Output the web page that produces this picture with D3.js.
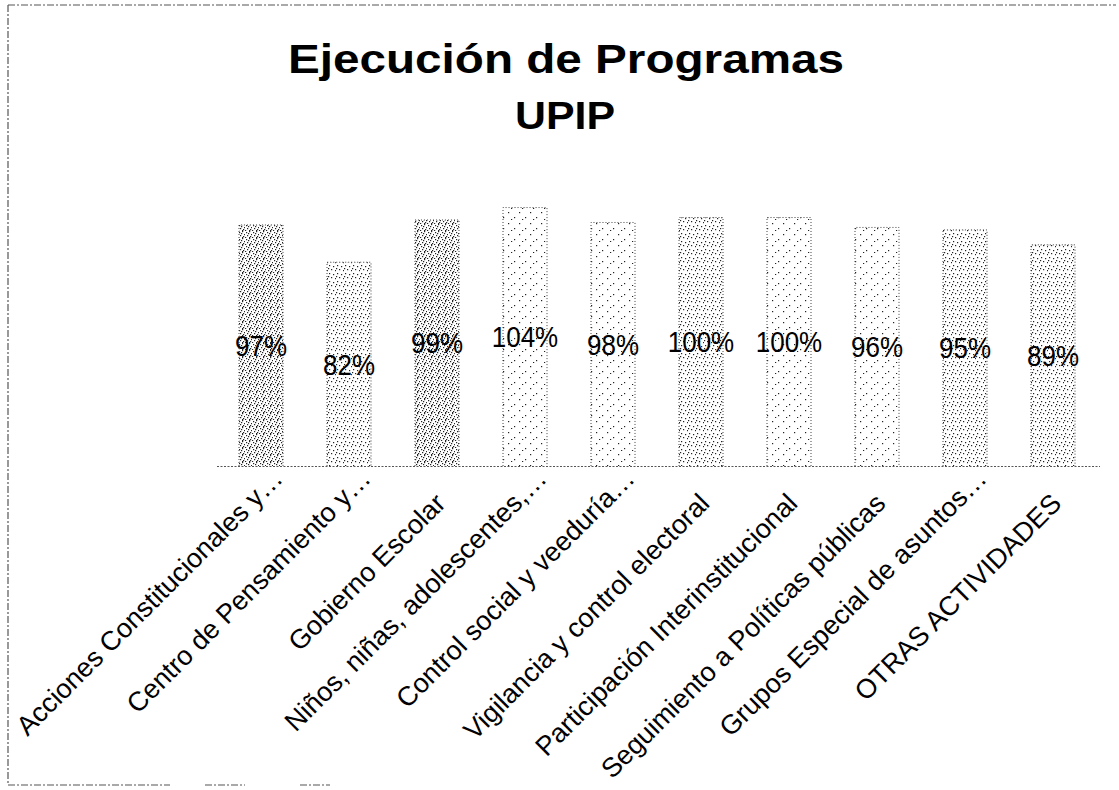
<!DOCTYPE html>
<html>
<head>
<meta charset="utf-8">
<script src="https://cdn.jsdelivr.net/npm/d3@7"></script>
<style>
  html, body { margin: 0; padding: 0; background: #fff; }
  svg { display: block; }
  text { font-family: "Liberation Sans", Arial, sans-serif; fill: #000; }
</style>
</head>
<body>
<svg id="chart" width="1119" height="790"></svg>
<script>
// Programas y porcentaje de ejecución
const categories = [
  "Acciones Constitucionales y…",
  "Centro de Pensamiento y…",
  "Gobierno Escolar",
  "Niños, niñas, adolescentes,…",
  "Control social y veeduría…",
  "Vigilancia y control electoral",
  "Participación Interinstitucional",
  "Seguimiento a Políticas públicas",
  "Grupos Especial de asuntos…",
  "OTRAS ACTIVIDADES"
];
const ejecucion = [97, 82, 99, 104, 98, 100, 100, 96, 95, 89];
const titleLines = ["Ejecución de Programas", "UPIP"];

// texture used by each bar (stippled print fills)
const barTexture = ["dense", "medium", "dense", "sparse", "sparse",
                    "medium", "sparse", "sparse", "medium", "medium"];

const svg = d3.select("#chart");

// stipple patterns
const defs = svg.append("defs");
const tiles = {
  dense:  { size: 7, dots: [[1,1],[4,0],[6,3],[2,4],[5,5],[0,6],[3,2],[4,6]] },
  medium: { size: 8, dots: [[1,1],[5,2],[3,5],[7,6],[0,4]] },
  sparse: { size: 11, dots: [[2,3],[8,8],[5,10]] }
};
Object.entries(tiles).forEach(([name, t]) => {
  const p = defs.append("pattern")
    .attr("id", "stipple-" + name)
    .attr("patternUnits", "userSpaceOnUse")
    .attr("width", t.size).attr("height", t.size);
  p.append("rect").attr("width", t.size).attr("height", t.size).attr("fill", "#fff");
  p.selectAll("rect.dot").data(t.dots).join("rect")
    .attr("class", "dot")
    .attr("x", d => d[0]).attr("y", d => d[1])
    .attr("width", 1.2).attr("height", 1.2)
    .attr("fill", "#222");
});

// outer frame (dashed, as printed)
const frame = svg.append("g").attr("fill", "none").attr("stroke", "#555")
  .attr("stroke-width", 1.2).attr("stroke-dasharray", "7,2,2,2");
frame.append("line").attr("x1", 8).attr("y1", 5).attr("x2", 1116).attr("y2", 5);
frame.append("line").attr("x1", 8).attr("y1", 5).attr("x2", 8).attr("y2", 785);
frame.append("line").attr("x1", 8).attr("y1", 785).attr("x2", 170).attr("y2", 785);
frame.append("line").attr("x1", 205).attr("y1", 785).attr("x2", 245).attr("y2", 785);
frame.append("line").attr("x1", 300).attr("y1", 785).attr("x2", 330).attr("y2", 785);

// title
const title = svg.append("g").attr("font-weight", "bold").attr("text-anchor", "middle");
title.append("text").attr("x", 566).attr("y", 73)
  .attr("font-size", 41).attr("textLength", 556).attr("lengthAdjust", "spacingAndGlyphs")
  .text(titleLines[0]);
title.append("text").attr("x", 565).attr("y", 129)
  .attr("font-size", 39).attr("textLength", 100).attr("lengthAdjust", "spacingAndGlyphs")
  .text(titleLines[1]);

// scales
const x = d3.scaleBand().domain(categories).range([217, 1097])
  .paddingInner(0.5).paddingOuter(0.25);
const y = d3.scaleLinear().domain([0, 100]).range([466, 217.5]);

// bars
const bars = svg.append("g");
bars.selectAll("rect").data(categories).join("rect")
  .attr("x", d => x(d))
  .attr("y", (d, i) => y(ejecucion[i]))
  .attr("width", x.bandwidth())
  .attr("height", (d, i) => y(0) - y(ejecucion[i]))
  .attr("fill", (d, i) => `url(#stipple-${barTexture[i]})`);

// dotted outline on the sides and top of each bar
bars.selectAll("path").data(categories).join("path")
  .attr("d", (d, i) => {
    const x0 = x(d), x1 = x(d) + x.bandwidth(), yt = y(ejecucion[i]), yb = y(0);
    return `M${x0},${yb}V${yt}H${x1}V${yb}`;
  })
  .attr("fill", "none").attr("stroke", "#444").attr("stroke-width", 1)
  .attr("stroke-dasharray", "1,2");

// category axis (baseline only, no ticks); truncated names let the ellipsis overhang
const xAxis = d3.axisBottom(x).tickSize(0).tickPadding(0);
const axisG = svg.append("g").attr("transform", `translate(0,${y(0)})`).call(xAxis);
axisG.select(".domain").attr("stroke", "#555").attr("stroke-dasharray", "2,1.5")
  .attr("d", "M217,0.5H1100");
axisG.selectAll(".tick text")
  .attr("font-family", "'Liberation Sans', Arial, sans-serif")
  .attr("font-size", 27)
  .attr("fill", "#000")
  .attr("text-anchor", "end")
  .attr("x", 0).attr("y", 0)
  .attr("dx", d => d.endsWith("…") ? "1em" : 0)
  .attr("dy", d => d.endsWith("…") ? "-0.3em" : 0)
  .attr("transform", "translate(10,39) rotate(-45)");

// value labels centred inside each bar
svg.append("g").attr("text-anchor", "middle").attr("font-size", 26)
  .selectAll("text").data(categories).join("text")
  .attr("transform", (d, i) =>
    `translate(${x(d) + x.bandwidth() / 2},${(y(ejecucion[i]) + y(0)) / 2}) scale(1,1.15)`)
  .attr("dy", "0.35em")
  .text((d, i) => ejecucion[i] + "%");
</script>
</body>
</html>
